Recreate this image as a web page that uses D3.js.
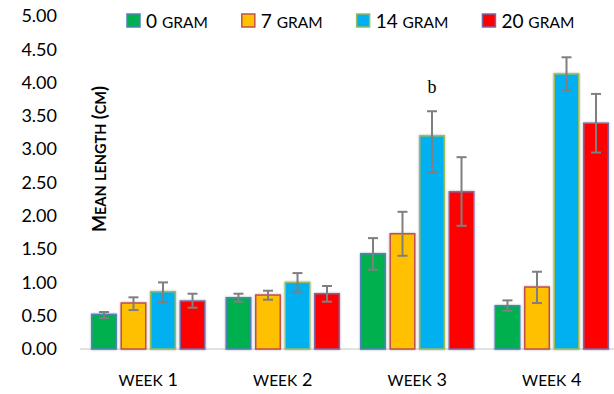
<!DOCTYPE html>
<html>
<head>
<meta charset="utf-8">
<script src="https://cdn.jsdelivr.net/npm/d3@7"></script>
<style>
  body { margin: 0; background: #fff; }
  text { font-family: Lato, "Open Sans", sans-serif; fill: #000; }
</style>
</head>
<body>
<svg id="chart" width="614" height="394"></svg>
<script>
// data
var weeks = ["week 1", "week 2", "week 3", "week 4"];
var series = ["0 gram", "7 gram", "14 gram", "20 gram"];
var means = [
  [0.52, 0.77, 1.43, 0.65],   // 0 gram
  [0.69, 0.81, 1.73, 0.93],   // 7 gram
  [0.86, 1.00, 3.20, 4.13],   // 14 gram
  [0.72, 0.83, 2.36, 3.39]    // 20 gram
];
// error bar above / below the mean
var errPlus = [
  [0.035, 0.06, 0.235, 0.08],
  [0.086, 0.065, 0.33, 0.23],
  [0.14, 0.14, 0.37, 0.25],
  [0.11, 0.116, 0.52, 0.44]
];
var errMinus = [
  [0.055, 0.06, 0.24, 0.075],
  [0.105, 0.07, 0.33, 0.24],
  [0.155, 0.14, 0.55, 0.24],
  [0.10, 0.12, 0.51, 0.44]
];
var yTicks = [0, 0.5, 1, 1.5, 2, 2.5, 3, 3.5, 4, 4.5, 5];
var notes = [{ week: "week 3", serie: "14 gram", label: "b", value: 3.85 }];

var fills = ["#00b050", "#ffc000", "#00b0f0", "#ff0000"];
var strokes = ["#4f81bd", "#c0504d", "#9bbb59", "#8064a2"];

var svg = d3.select("#chart");

// small caps by hand: lowercase runs get upper-cased at a smaller size
function smallCaps(sel, str, big, small) {
  sel.style("font-size", big + "px");
  str.match(/[a-z]+|[^a-z]+/g).forEach(function(part) {
    var t = sel.append("tspan").text(part.toUpperCase());
    if (/[a-z]/.test(part)) t.style("font-size", small + "px");
  });
}

var defs = svg.append("defs");
var shadow = defs.append("filter").attr("id", "shadow")
  .attr("x", "-20%").attr("y", "-10%").attr("width", "140%").attr("height", "120%");
shadow.append("feDropShadow")
  .attr("dx", 0).attr("dy", 0).attr("stdDeviation", 1.2)
  .attr("flood-color", "#000").attr("flood-opacity", 0.35);

// *********** SCALES ***************** //
var y = d3.scaleLinear().domain([0, 5]).range([349, 16]);

var x0 = d3.scaleBand().domain(weeks).range([81, 619])
  .paddingInner(0.12).paddingOuter(0.06);

var x1 = d3.scaleBand().domain(series).range([0, x0.bandwidth()])
  .paddingInner(0.17).paddingOuter(0.09);

// *********** Y AXIS ***************** //
var yAxis = svg.append("g")
  .attr("transform", "translate(57,0)")
  .call(d3.axisLeft(y).tickValues(yTicks).tickFormat(d3.format(".2f")).tickSize(0).tickPadding(0));
yAxis.select(".domain").remove();
yAxis.selectAll("text")
  .style("font-family", "Lato, sans-serif")
  .style("font-size", "18px")
  .attr("fill", "#000");

// baseline
svg.append("line")
  .attr("x1", 80).attr("x2", 614)
  .attr("y1", y(0)).attr("y2", y(0))
  .attr("stroke", "#d9d9d9").attr("stroke-width", 1.5);

// y title
svg.append("text")
  .attr("transform", "translate(106," + 159 + ") rotate(-90)")
  .attr("text-anchor", "middle")
  .style("font-weight", "bold")
  .call(smallCaps, "Mean length (cm)", 18, 14.5);

// *********** BARS ***************** //
var groups = svg.append("g").selectAll("g")
  .data(weeks)
  .join("g")
  .attr("transform", function(d) { return "translate(" + x0(d) + ",0)"; });

function cells(w, wi) {
  return series.map(function(s, si) {
    return { s: s, si: si, v: means[si][wi], hi: means[si][wi] + errPlus[si][wi], lo: means[si][wi] - errMinus[si][wi] };
  });
}

groups.selectAll("rect")
  .data(cells)
  .join("rect")
  .attr("x", function(d) { return x1(d.s); })
  .attr("y", function(d) { return y(d.v); })
  .attr("width", x1.bandwidth())
  .attr("height", function(d) { return y(0) - y(d.v); })
  .attr("fill", function(d) { return fills[d.si]; })
  .attr("stroke", function(d) { return strokes[d.si]; })
  .attr("stroke-width", 1.5)
  .attr("filter", "url(#shadow)");

// error bars
var eb = groups.selectAll("g.err")
  .data(cells)
  .join("g").attr("class", "err")
  .attr("stroke", "#7f7f7f").attr("stroke-width", 2);

function cx(d) { return x1(d.s) + x1.bandwidth() / 2; }

eb.append("line")
  .attr("x1", cx).attr("x2", cx)
  .attr("y1", function(d) { return y(d.hi); })
  .attr("y2", function(d) { return y(d.lo); });
eb.append("line")
  .attr("x1", function(d) { return cx(d) - 5; })
  .attr("x2", function(d) { return cx(d) + 5; })
  .attr("y1", function(d) { return y(d.hi); })
  .attr("y2", function(d) { return y(d.hi); });
eb.append("line")
  .attr("x1", function(d) { return cx(d) - 5; })
  .attr("x2", function(d) { return cx(d) + 5; })
  .attr("y1", function(d) { return y(d.lo); })
  .attr("y2", function(d) { return y(d.lo); });

// significance letter
svg.selectAll("text.note")
  .data(notes)
  .join("text")
  .attr("class", "note")
  .attr("x", function(d) { return x0(d.week) + x1(d.serie) + x1.bandwidth() / 2; })
  .attr("y", function(d) { return y(d.value); })
  .attr("text-anchor", "middle")
  .style("font-family", "'Liberation Serif', 'DejaVu Serif', serif")
  .style("font-size", "18px")
  .text(function(d) { return d.label; });

// *********** X LABELS ***************** //
svg.selectAll("text.week")
  .data(weeks)
  .join("text")
  .attr("class", "week")
  .attr("x", function(d) { return x0(d) + x0.bandwidth() / 2; })
  .attr("y", 386)
  .attr("text-anchor", "middle")
  .each(function(d) { smallCaps(d3.select(this), d, 18, 15.5); });

// *********** LEGEND ***************** //
var lx = 127;
series.forEach(function(s, i) {
  svg.append("rect")
    .attr("x", lx).attr("y", 14)
    .attr("width", 13).attr("height", 13)
    .attr("fill", fills[i])
    .attr("stroke", strokes[i]).attr("stroke-width", 1.5);
  var t = svg.append("text")
    .attr("x", lx + 19).attr("y", 27.5)
    .call(smallCaps, s, 19, 15.5);
  lx += 19 + t.node().getComputedTextLength() + 34;
});
</script>
</body>
</html>
